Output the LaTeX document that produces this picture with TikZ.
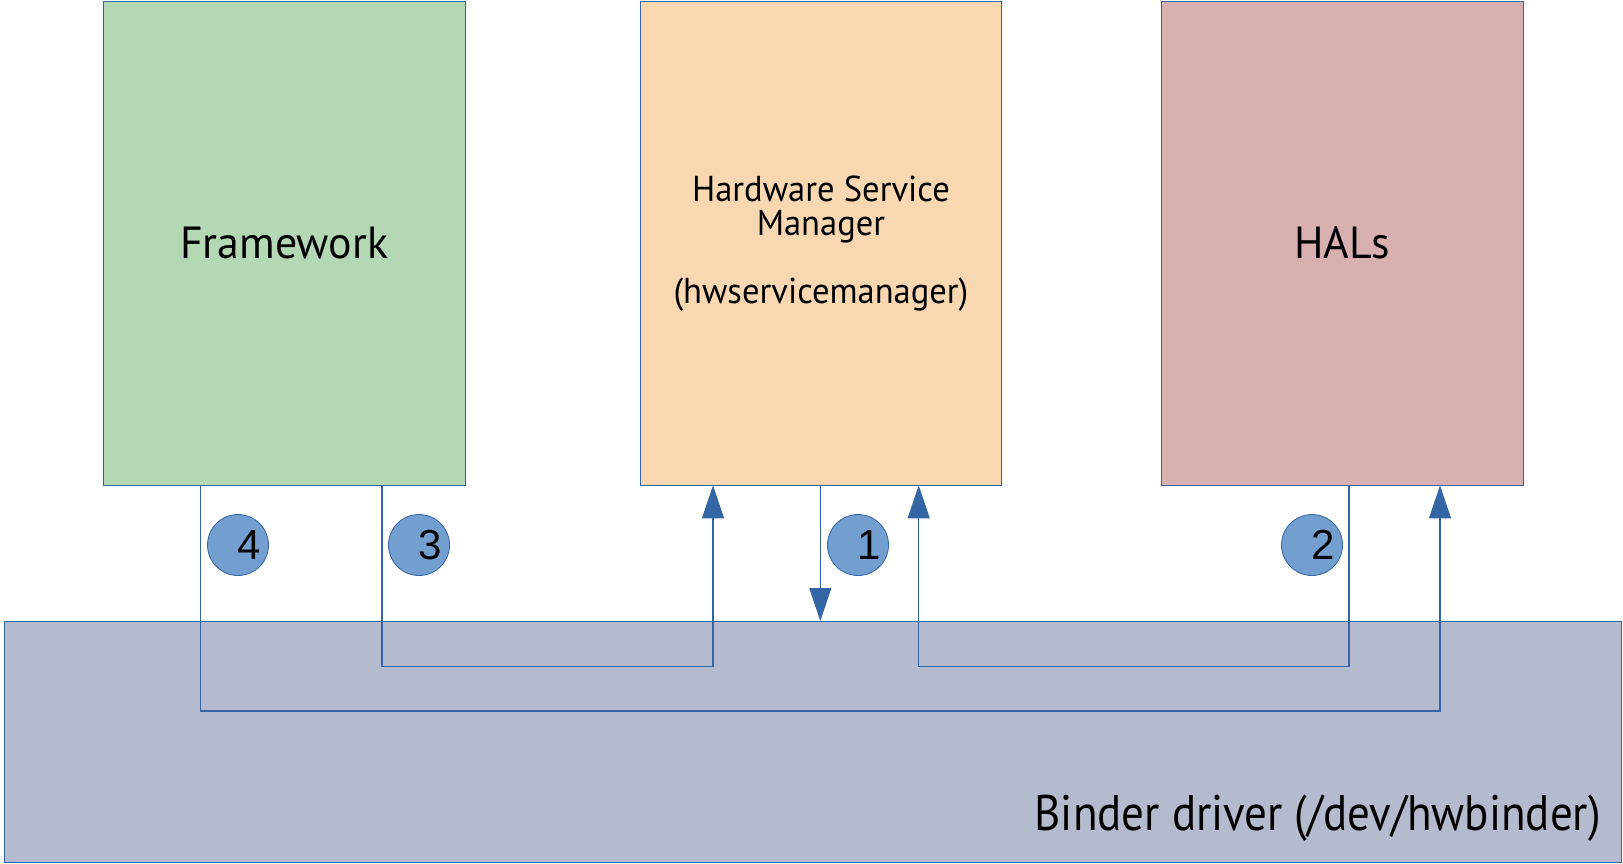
\documentclass[tikz,border=0pt]{standalone}
\usepackage{fontspec}
\setmainfont{PT Sans}
\newfontfamily\bdfont[FakeStretch=0.9]{PT Sans}
\newfontfamily\hsmfont[FakeStretch=0.96]{PT Sans}
\newfontfamily\fwfont[FakeStretch=0.975]{PT Sans}
\newfontfamily\digitfont{Liberation Sans}
\usetikzlibrary{arrows.meta,calc}
\definecolor{edgeblue}{HTML}{3465A4}
\definecolor{fwfill}{RGB}{180,216,180}
\definecolor{hsmfill}{RGB}{249,215,177}
\definecolor{halfill}{RGB}{217,176,176}
\definecolor{bdfill}{RGB}{181,187,206}
\definecolor{badgefill}{HTML}{729FCF}
\tikzset{
  box/.style={draw=edgeblue, line width=0.9pt, inner sep=0pt, anchor=north west, align=center},
  badge/.style={circle, draw=edgeblue, line width=0.8pt, fill=badgefill, minimum size=61pt, inner sep=0pt, font=\digitfont\fontsize{42}{42}\selectfont},
  conn/.style={draw=edgeblue, line width=1.2pt},
  arr/.style={conn, -{Triangle[length=33pt, width=22pt]}}
}
\begin{document}
\begin{tikzpicture}[x=1pt,y=-1pt]
\useasboundingbox (0,0) rectangle (1623,864);
\fill[white] (0,0) rectangle (1623,864);
% binder driver
\node[box, fill=bdfill, minimum width=1617pt, minimum height=241pt] (bd) at (4,621) {};
\node[anchor=base east, inner sep=0pt, font=\bdfont\fontsize{50}{50}\selectfont] (bdt) at (1601,830) {Binder driver (/dev/hwbinder)};
% boxes
\node[box, fill=fwfill, minimum width=362.5pt, minimum height=483.5pt, font=\fwfont\fontsize{45}{45}\selectfont] (fw) at (102.5,1) {Framework};
\node[box, fill=hsmfill, minimum width=361pt, minimum height=483.5pt, font=\hsmfont\fontsize{36}{34}\selectfont] (hsm) at (640,1) {Hardware Service\\Manager\\[34pt](hwservicemanager)};
\node[box, fill=halfill, minimum width=362.5pt, minimum height=483.5pt, font=\fwfont\fontsize{45}{45}\selectfont] (hal) at (1160.5,1) {HALs};
% x positions of connectors
\coordinate (x4) at (200.7,0);
\coordinate (x3) at (382,0);
\coordinate (xa) at (713,0);
\coordinate (x1) at (820.3,0);
\coordinate (xb) at (918.7,0);
\coordinate (x2) at (1349,0);
\coordinate (xc) at (1440,0);
\coordinate (y3) at (0,666.5);
\coordinate (y4) at (0,711);
% connectors
\draw[arr] (fw.south -| x3) -- (x3 |- y3) -- (xa |- y3) -- (hsm.south -| xa);
\draw[arr] (hsm.south -| x1) -- (bd.north -| x1);
\draw[arr] (hal.south -| x2) -- (x2 |- y3) -- (xb |- y3) -- (hsm.south -| xb);
\draw[arr] (fw.south -| x4) -- (x4 |- y4) -- (xc |- y4) -- (hal.south -| xc);
% badges
\node[badge] (b4) at (238,545) {\hspace*{22pt}4};
\node[badge] (b3) at (419,545) {\hspace*{22pt}3};
\node[badge] (b1) at (858,545) {\hspace*{22pt}1};
\node[badge] (b2) at (1312,545) {\hspace*{22pt}2};
\end{tikzpicture}
\end{document}
